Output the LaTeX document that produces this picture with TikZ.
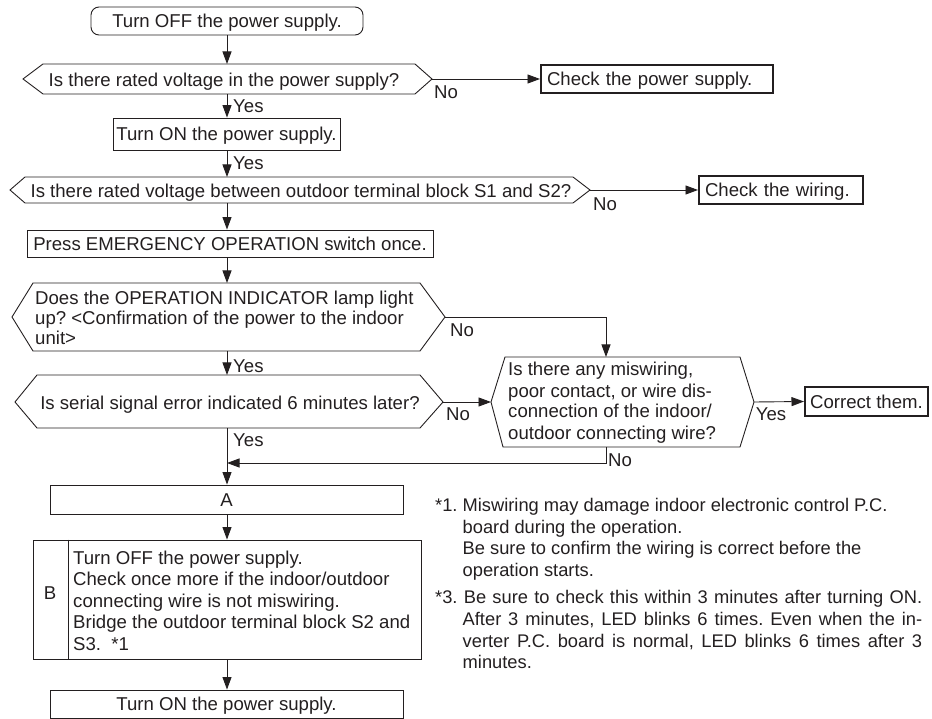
\documentclass[tikz,border=0pt]{standalone}
\usepackage{fontspec}
\setmainfont{Liberation Sans}
\usetikzlibrary{arrows.meta}
\definecolor{ink}{RGB}{35,31,32}
\frenchspacing
\begin{document}
\frenchspacing
\begin{tikzpicture}[x=1pt,y=-1pt,
  every node/.style={text=ink, font=\fontsize{18.6}{21.5}\selectfont},
  pbox/.style={draw=ink, line width=0.9pt, inner sep=0pt, text height=13.4pt, text depth=0pt},
  hbox/.style={draw=ink, line width=2pt, inner xsep=6pt, inner ysep=0pt, text height=13.4pt, text depth=0pt, align=left},
  tlabel/.style={inner sep=0pt, text height=13.4pt, text depth=0pt},
  mline/.style={inner sep=0pt, anchor=base west},
  hexa/.style={draw=ink, line width=0.9pt, line join=miter},
  flow/.style={draw=ink, line width=0.9pt, -{Triangle[length=12.5pt,width=9pt]}},
  link/.style={draw=ink, line width=0.9pt},
]
\useasboundingbox (0,0) rectangle (932,719);

% start
\node[pbox, rounded corners=8pt, minimum width=272pt, minimum height=28pt] (start) at (227,21) {Turn OFF the power supply.};

% decision 1
\draw[hexa] (23,79) -- (43,64) -- (415,64) -- (432,79) -- (415,94) -- (43,94) -- cycle;
\node[tlabel] (d1) at (224,79.5) {Is there rated voltage in the power supply?};
\coordinate (d1n) at (227,64); \coordinate (d1s) at (227,94); \coordinate (d1e) at (432,79);
\node[hbox, anchor=west, text width=220pt, minimum height=28pt] (cps) at (540,79) {Check the power supply.};
\node[tlabel] (no1) at (446,92) {No};
\node[tlabel, anchor=west] (yes1) at (233,106) {Yes};

% turn on
\node[pbox, minimum width=227pt, minimum height=32pt] (on1) at (226.5,134) {Turn ON the power supply.};
\node[tlabel, anchor=west] (yes2) at (233,163) {Yes};

% decision 2
\draw[hexa] (10,190) -- (25,177) -- (573,177) -- (590,190) -- (573,203) -- (25,203) -- cycle;
\node[tlabel] (d2) at (301,190.5) {Is there rated voltage between outdoor terminal block S1 and S2?};
\coordinate (d2n) at (227,177); \coordinate (d2s) at (227,203); \coordinate (d2e) at (590,190);
\node[hbox, anchor=west, text width=152pt, minimum height=28pt] (cw) at (698,190) {Check the wiring.};
\node[tlabel] (no2) at (605,204) {No};

% press
\node[pbox, minimum width=406pt, minimum height=27pt] (press) at (230,243.5) {Press EMERGENCY OPERATION switch once.};

% decision 3
\draw[hexa] (12,317) -- (33,283) -- (420,283) -- (445,317) -- (420,351) -- (33,351) -- cycle;
\node[mline] (d3) at (35,305) {\begin{minipage}[t]{405pt}\fontsize{18.6}{20}\selectfont\raggedright Does the OPERATION INDICATOR lamp light\\ up? <Confirmation of the power to the indoor\\ unit>\end{minipage}};
\coordinate (d3n) at (227,283); \coordinate (d3s) at (227,351); \coordinate (d3e) at (445,317);
\node[tlabel] (no3) at (462,330) {No};
\node[tlabel, anchor=west] (yes3) at (233,366) {Yes};

% decision 4
\draw[hexa] (491,402) -- (505,357) -- (740,357) -- (754,402) -- (740,447) -- (503,447) -- cycle;
\node[mline] (d4) at (508,376) {\begin{minipage}[t]{240pt}\fontsize{18.6}{21}\selectfont\raggedright Is there any miswiring,\\ poor contact, or wire dis-\\ connection of the indoor/\\ outdoor connecting wire?\end{minipage}};
\coordinate (d4n) at (606,357); \coordinate (d4s) at (606,447); \coordinate (d4w) at (491,402); \coordinate (d4e) at (754,402);
\node[draw=ink, line width=2pt, inner sep=0pt, text height=13.4pt, text depth=0pt, anchor=west, minimum width=123pt, minimum height=29pt] (ct) at (804,401.5) {Correct them.};
\node[tlabel] (yes4) at (771,414) {Yes};
\node[tlabel, anchor=west] (no5) at (608,460) {No};

% decision 5
\draw[hexa] (15,402) -- (37,375) -- (420,375) -- (443,402) -- (420,428) -- (37,428) -- cycle;
\node[tlabel] (d5) at (230,402.5) {Is serial signal error indicated 6 minutes later?};
\coordinate (d5n) at (227,375); \coordinate (d5s) at (227,428); \coordinate (d5e) at (443,402);
\node[tlabel] (no4) at (458,414) {No};
\node[tlabel, anchor=west] (yes5) at (233,440) {Yes};
\coordinate (merge) at (227,463);

% A, B, turn on
\node[pbox, minimum width=353pt, minimum height=29pt] (A) at (226.5,499.5) {A};
\node[pbox, minimum width=388pt, minimum height=119pt] (B) at (227,599.5) {};
\draw[link] ([xshift=36pt]B.north west) -- ([xshift=36pt]B.south west);
\node[tlabel] (Blabel) at (50,593) {B};
\node[mline] (Btext) at (73,564) {\begin{minipage}[t]{345pt}\fontsize{18.6}{21.5}\selectfont\raggedright Turn OFF the power supply.\\ Check once more if the indoor/outdoor\\ connecting wire is not miswiring.\\ Bridge the outdoor terminal block S2 and\\ S3.\ \ *1\end{minipage}};
\node[pbox, minimum width=353pt, minimum height=28pt] (on2) at (226.5,704) {Turn ON the power supply.};

% notes
\node[mline] (notes) at (435,511.5) {\begin{minipage}[t]{487pt}\fontsize{18.3}{21.7}\selectfont\frenchspacing\parskip=5.3pt
\hangindent=27.5pt\hangafter=1 *1. Miswiring may damage indoor electronic control P.C.\\ board during the operation.\\ Be sure to confirm the wiring is correct before the\\ operation starts.\par
\hangindent=27.5pt\hangafter=1 *3. Be sure to check this within 3 minutes after turning ON.\linebreak After 3 minutes, LED blinks 6 times. Even when the in-\linebreak verter P.C. board is normal, LED blinks 6 times after 3\linebreak minutes.\par
\end{minipage}};

% connectors
\draw[flow] (start.south) -- (d1n);
\draw[flow] (d1s) -- (d1s |- on1.north);
\draw[flow] (d1s |- on1.south) -- (d2n);
\draw[flow] (d2s) -- (d2s |- press.north);
\draw[flow] (d2s |- press.south) -- (d3n);
\draw[flow] (d3s) -- (d5n);
\draw[flow] (d5s) -- (d5s |- A.north);
\draw[flow] (d5s |- A.south) -- (d5s |- B.north);
\draw[flow] (d5s |- B.south) -- (d5s |- on2.north);
\draw[flow] (d1e) -- (cps.west);
\draw[flow] (d2e) -- (cw.west);
\draw[flow] (d3e) -| (d4n);
\draw[flow] (d5e) -- (d4w);
\draw[flow] (d4e) -- (ct.west);
\draw[flow] (d4s) |- (merge);
\end{tikzpicture}
\end{document}
